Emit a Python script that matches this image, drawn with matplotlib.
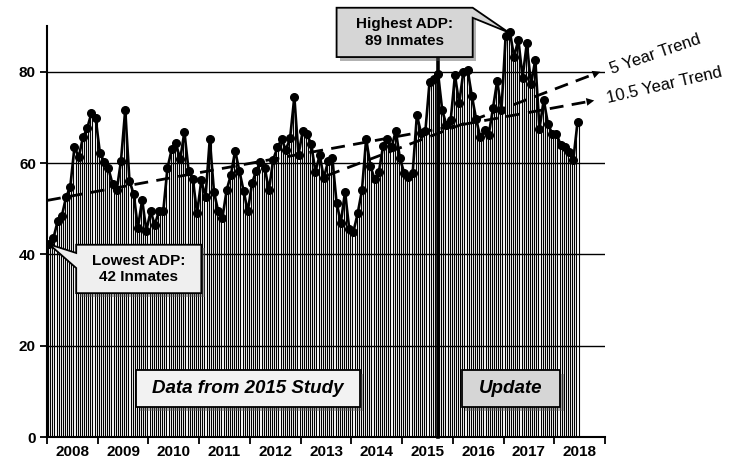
import numpy as np
import matplotlib
matplotlib.use("Agg")
import matplotlib.pyplot as plt
from matplotlib.patches import Polygon, Rectangle

plt.rcParams['font.family'] = ['Liberation Sans', 'DejaVu Sans']

# monthly average daily population, Jan 2008 - Jun 2018
adp = [42.2, 43.5, 47.2, 48.4, 52.5, 54.8, 63.5, 61.3, 65.6, 67.6, 70.9, 69.8,
       62.3, 60.3, 58.9, 55.4, 54.1, 60.5, 71.6, 56.1, 53.2, 45.8, 51.9, 45.2,
       49.4, 46.5, 49.5, 49.5, 58.9, 63.0, 64.3, 60.8, 66.8, 58.3, 56.4, 49.0,
       56.2, 52.5, 65.2, 53.7, 49.4, 48.0, 54.1, 57.4, 62.7, 58.3, 53.9, 49.4,
       55.6, 58.3, 60.3, 58.9, 54.1, 60.7, 63.4, 65.2, 62.9, 65.4, 74.4, 61.8,
       67.1, 66.3, 64.1, 58.1, 61.7, 56.7, 60.5, 61.0, 51.3, 46.9, 53.7, 45.5,
       45.0, 49.0, 54.0, 65.3, 59.4, 56.4, 58.0, 63.7, 65.3, 63.4, 67.0, 61.0,
       57.8, 57.0, 57.8, 70.5, 66.5, 66.9, 77.8, 78.3, 79.6, 71.5, 68.3, 69.4,
       79.2, 73.1, 80.0, 80.4, 74.7, 69.7, 65.6, 67.3, 66.2, 72.0, 78.0, 71.5,
       87.9, 88.6, 83.3, 87.0, 78.7, 86.2, 77.2, 82.6, 67.5, 73.8, 68.6, 66.4,
       66.4, 64.0, 63.5, 62.4, 60.7, 68.9]
years = ['2008', '2009', '2010', '2011', '2012', '2013',
         '2014', '2015', '2016', '2017', '2018']
study_end = 92  # last month of the 2015 study (Sep 2015)

# trend lines: (start month, start value, end month, end value)
trend_10 = (-0.5, 51.8, 129.6, 73.8)
trend_5 = (65.6, 57.2, 131.0, 80.2)

months = np.arange(len(adp))
fig = plt.figure(figsize=(7.29, 4.62), dpi=100)
ax = fig.add_axes([0.0645, 0.0541, 0.7654, 0.8896])

ax.bar(months, adp, width=0.5, color='white', edgecolor='black', linewidth=0.8, zorder=1)
for v in [20, 40, 60, 80]:
    ax.axhline(v, color='black', lw=1.0, zorder=2)
ax.plot(months, adp, color='black', lw=1.9, marker='o', markersize=5.5, zorder=5)

# trend arrows
for t in [trend_10, trend_5]:
    ax.plot([t[0], t[2] - 2.5], [t[1], t[3] - (t[3] - t[1]) * 2.5 / (t[2] - t[0])],
            color='black', lw=2.0, dashes=(5, 3), zorder=4, clip_on=False)
    ax.annotate('', xy=(t[2], t[3]), xytext=(t[2] - 3, t[3] - (t[3] - t[1]) * 3 / (t[2] - t[0])),
                arrowprops=dict(arrowstyle='-|>', color='black', lw=0, mutation_scale=14),
                annotation_clip=False, zorder=4)
ax.text(trend_5[2] + 1.7, trend_5[3] + 0.3, '5 Year Trend', fontsize=12, rotation=19,
        rotation_mode='anchor', ha='left', va='center')
ax.text(trend_10[2] + 2.3, trend_10[3] + 0.3, '10.5 Year Trend', fontsize=12, rotation=13,
        rotation_mode='anchor', ha='left', va='center')

# study / update separator
ax.plot([study_end, study_end], [0, 83.2], color='black', lw=2.6, zorder=6, clip_on=False)


def callout(x0, x1, y0, y1, wedge, face, label, style='normal'):
    ax.add_patch(Rectangle((x0 + 0.8, y0 - 0.8), x1 - x0, y1 - y0, facecolor='#555555',
                           alpha=0.45, edgecolor='none', zorder=7, clip_on=False))
    pts = [(x0, y1), (x1, y1), (x1, y0), (x0, y0)]
    if wedge is not None:
        side, ya, yb, tip = wedge
        if side == 'left':
            pts = [(x0, y1), (x1, y1), (x1, y0), (x0, y0), (x0, yb), tip, (x0, ya)]
        else:
            pts = [(x0, y1), (x1, y1), tip, (x1, yb), (x1, y0), (x0, y0)]
    ax.add_patch(Polygon(pts, closed=True, facecolor=face, edgecolor='black', lw=1.3,
                         zorder=8, clip_on=False))
    fs = 11 if style == 'normal' else 13.5
    ax.text((x0 + x1) / 2, (y0 + y1) / 2, label, ha='center', va='center', fontsize=fs,
            fontweight='bold', fontstyle=style, zorder=9, linespacing=1.25)


lo = int(np.argmin(adp))
hi = int(np.argmax(adp))
callout(6.4, 36.0, 31.5, 42.1, ('left', 40.3, 37.0, (lo, adp[lo])), '#efefef',
        'Lowest ADP:\n%d Inmates' % round(adp[lo]))
callout(68.0, 100.2, 83.2, 94.0, ('right', 94.0, 91.8, (hi - 0.3, adp[hi])), '#d6d6d6',
        'Highest ADP:\n%d Inmates' % round(adp[hi]))
callout(20.6, 73.5, 6.6, 14.7, None, '#f2f2f2', 'Data from 2015 Study', 'italic')
callout(97.6, 120.9, 6.6, 14.7, None, '#d6d6d6', 'Update', 'italic')

ax.set_xlim(-0.5, 131.5)
ax.set_ylim(0, 90)
ax.set_yticks([0, 20, 40, 60, 80])
ax.set_xticks(np.arange(-0.5, 132, 12))
ax.set_xticklabels([])
ax.set_xticks(np.arange(5.5, 132, 12), minor=True)
ax.set_xticklabels(years, minor=True)
ax.tick_params(axis='x', which='major', length=5, width=1.3, direction='out')
ax.tick_params(axis='x', which='minor', length=0, pad=6, labelsize=11)
ax.tick_params(axis='y', length=5, width=1.3, direction='out', labelsize=11, pad=3)
for lab in ax.get_xticklabels(minor=True) + ax.get_yticklabels():
    lab.set_fontweight('bold')
for s in ['top', 'right']:
    ax.spines[s].set_visible(False)
for s in ['left', 'bottom']:
    ax.spines[s].set_linewidth(1.5)

fig.savefig('out.png', dpi=100)
